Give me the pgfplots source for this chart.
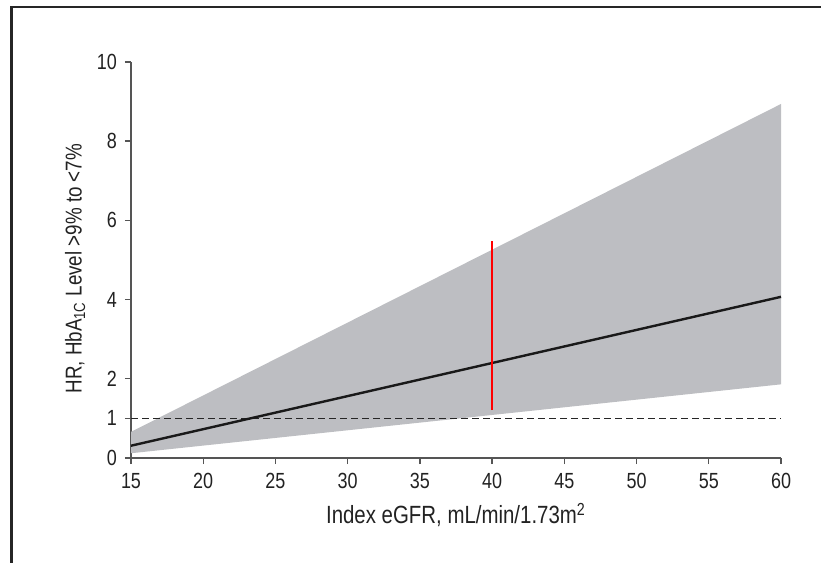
\documentclass[border=0pt]{standalone}
\usepackage{pgfplots}
\pgfplotsset{compat=1.18}
\usepackage{fontspec}
\setmainfont{Liberation Sans}[FakeStretch=0.82]
\definecolor{band}{HTML}{BDBEC2}
\definecolor{axisgray}{HTML}{555555}
\definecolor{txt}{HTML}{222222}
\begin{document}
\begin{tikzpicture}
\useasboundingbox (-65.5bp,-52.5bp) rectangle (345bp,229bp);
\draw[line width=1.1bp, color=black!85] (-59.75bp,-70bp) -- (-59.75bp,225.5bp) -- (370bp,225.5bp);
\begin{axis}[
  at={(0,0)}, anchor=origin,
  scale only axis, width=325bp, height=198bp,
  xmin=15, xmax=60, ymin=0, ymax=10,
  axis x line=bottom, axis y line=left,
  axis line style={-, color=axisgray, line width=0.7bp},
  xtick={15,20,...,60}, ytick={0,1,2,4,6,8,10},
  tick align=outside, tick style={color=axisgray, line width=0.7bp},
  major tick length=3bp,
  /pgf/number format/assume math mode=true,
  ticklabel style={font=\fontsize{11}{13}\selectfont, text=txt},
  xticklabel style={yshift=-1bp},
  yticklabel style={xshift=-0.5bp},
  xlabel={Index eGFR, mL/min/1.73m\textsuperscript{2}},
  ylabel={HR, HbA\textsubscript{1C} Level >9\% to <7\%},
  xlabel style={font=\fontsize{12.5}{14}\selectfont, text=txt, at={(axis description cs:0.5,-0.144)}, anchor=center},
  ylabel style={font=\fontsize{11.5}{13}\selectfont, text=txt, at={(axis description cs:-0.086,0.478)}, anchor=center, rotate=0},
  clip=false,
]
\addplot[fill=band, draw=none] coordinates {(15,0.12) (60,1.86) (60,8.94) (15,0.66)} -- cycle;
\addplot[black!85, line width=0.7bp, dash pattern=on 3.5bp off 2bp] coordinates {(15,1) (60,1)};
\addplot[color=black!90, line width=1.2bp] coordinates {(15,0.31) (60,4.07)};
\addplot[red, line width=1bp] coordinates {(40,1.21) (40,5.47)};
\end{axis}
\end{tikzpicture}
\end{document}
